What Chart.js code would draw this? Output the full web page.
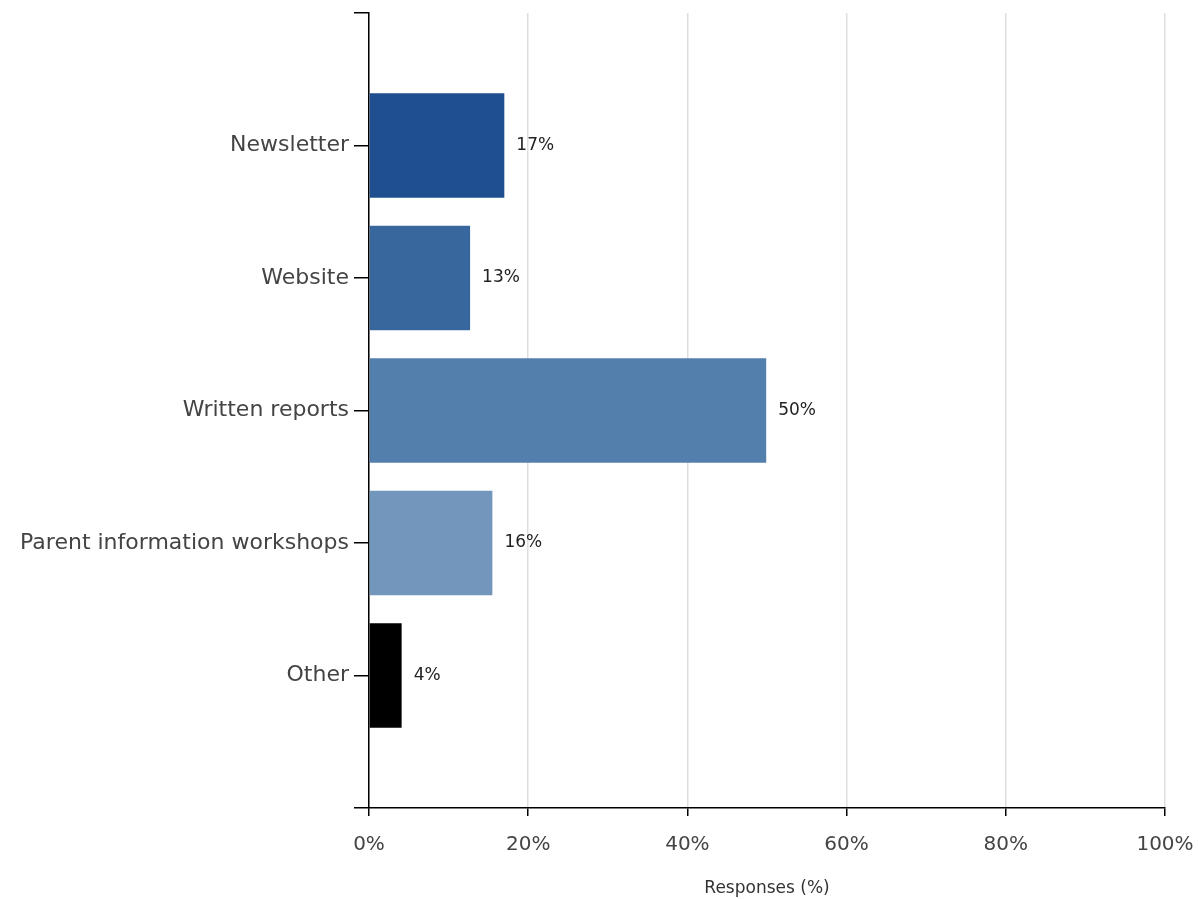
<!DOCTYPE html>
<html lang="en">
<head>
    <meta charset="UTF-8">
    <title>Responses</title>
    <style>
        html, body { margin: 0; padding: 0; background: #fff; }
        #wrap { width: 1198px; height: 899px; }
    </style>
    <script src="https://cdn.jsdelivr.net/npm/chart.js"></script>
</head>
<body>
    <div id="wrap"><canvas id="chart"></canvas></div>
    <script>
        // empty slots at either end keep the gap above the first and below the last bar
        const categories = ['', 'Newsletter', 'Website', 'Written reports', 'Parent information workshops', 'Other', ''];
        const values = [null, 17.0, 12.7, 49.9, 15.5, 4.1, null];
        const valueLabels = ['', '17%', '13%', '50%', '16%', '4%', ''];
        const barColors = ['#000', '#1f4f8e', '#38679d', '#537fac', '#7396bc', '#000000', '#000'];
        const xTicks = [0, 20, 40, 60, 80, 100];

        const valueLabelPlugin = {
            id: 'valueLabels',
            afterDatasetsDraw(chart) {
                const ctx = chart.ctx;
                const meta = chart.getDatasetMeta(0);
                ctx.save();
                ctx.font = '17px "DejaVu Sans", sans-serif';
                ctx.fillStyle = '#222';
                ctx.textBaseline = 'middle';
                meta.data.forEach((bar, i) => {
                    if (values[i] == null) return;
                    ctx.fillText(valueLabels[i], bar.x + 12, bar.y);
                });
                ctx.restore();
            }
        };

        new Chart(document.getElementById('chart'), {
            type: 'bar',
            data: {
                labels: categories,
                datasets: [{
                    data: values,
                    backgroundColor: barColors,
                    borderWidth: 0,
                    categoryPercentage: 0.79,
                    barPercentage: 1
                }]
            },
            options: {
                indexAxis: 'y',
                responsive: true,
                maintainAspectRatio: false,
                animation: false,
                layout: { padding: { top: 13, right: 33, left: 0, bottom: 0 } },
                plugins: {
                    legend: { display: false },
                    tooltip: { enabled: false }
                },
                scales: {
                    y: {
                        type: 'category',
                        offset: false,
                        grid: {
                            offset: false,
                            drawOnChartArea: false,
                            color: '#000',
                            tickLength: 15,
                            lineWidth: 1.5
                        },
                        border: { color: '#000', width: 1.5 },
                        ticks: {
                            color: '#444',
                            padding: 5,
                            autoSkip: false,
                            font: { family: '"DejaVu Sans", sans-serif', size: 22 }
                        },
                        afterFit(scale) {
                            scale.width = 369;
                            scale.paddingTop = 0;
                            scale.paddingBottom = 0;
                        }
                    },
                    x: {
                        type: 'linear',
                        min: 0,
                        max: 100,
                        afterBuildTicks(scale) {
                            scale.ticks = xTicks.map(v => ({ value: v }));
                        },
                        grid: {
                            color: '#dedede',
                            lineWidth: 1.5,
                            tickColor: '#000',
                            tickLength: 8
                        },
                        border: { color: '#000', width: 1.5 },
                        ticks: {
                            color: '#444',
                            padding: 17,
                            callback: v => v + '%',
                            font: { family: '"DejaVu Sans", sans-serif', size: 20 }
                        },
                        title: {
                            display: true,
                            text: 'Responses (%)',
                            color: '#333',
                            padding: { top: 8, bottom: 0 },
                            font: { family: '"DejaVu Sans", sans-serif', size: 17 }
                        },
                        afterFit(scale) {
                            scale.height = 91;
                            scale.paddingLeft = 0;
                            scale.paddingRight = 0;
                        }
                    }
                }
            },
            plugins: [valueLabelPlugin]
        });
    </script>
</body>
</html>
